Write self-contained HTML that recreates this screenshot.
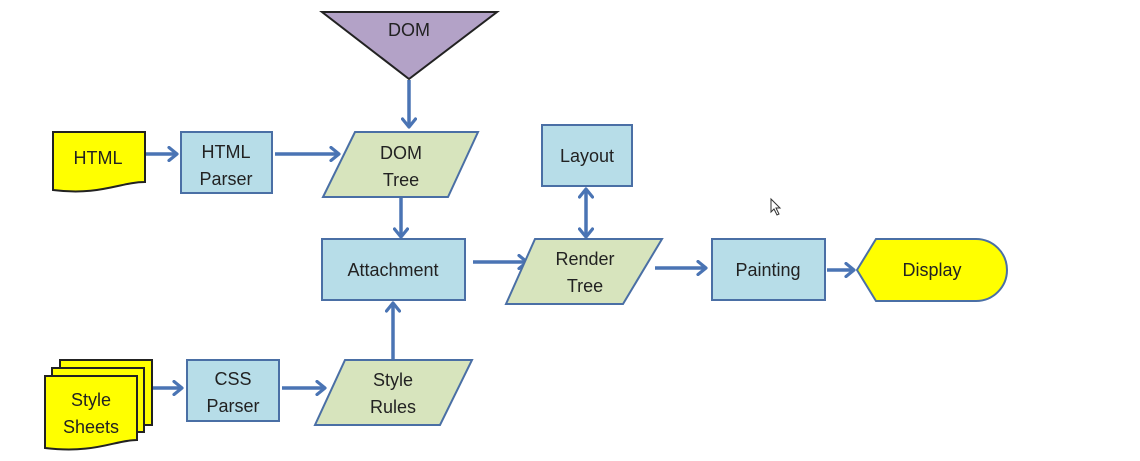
<!DOCTYPE html>
<html><head><style>html,body{margin:0;padding:0;background:#fff}svg{display:block}</style></head>
<body>
<svg width="1140" height="461" viewBox="0 0 1140 461" xmlns="http://www.w3.org/2000/svg" font-family="Liberation Sans, sans-serif" font-size="18" fill="#222">
<defs>
<marker id="a" markerWidth="14" markerHeight="16" refX="10" refY="8" orient="auto-start-reverse" markerUnits="userSpaceOnUse">
<path d="M2,1.5 L10,8 L2,14.5" fill="none" stroke="#4a74b4" stroke-width="3.2" stroke-linecap="round" stroke-linejoin="round"/>
</marker>
</defs>
<g stroke="#4a74b4" stroke-width="3.5" fill="none" marker-end="url(#a)">
<line x1="409" y1="80" x2="409" y2="127"/>
<line x1="146" y1="154" x2="177" y2="154"/>
<line x1="275" y1="154" x2="339" y2="154"/>
<line x1="401" y1="198" x2="401" y2="237"/>
<line x1="473" y1="262" x2="527" y2="262"/>
<line x1="655" y1="268" x2="706" y2="268"/>
<line x1="827" y1="270" x2="854" y2="270"/>
<line x1="152" y1="388" x2="182" y2="388"/>
<line x1="282" y1="388" x2="325" y2="388"/>
<line x1="393" y1="360" x2="393" y2="303"/>
<line x1="586" y1="189" x2="586" y2="237" marker-start="url(#a)"/>
</g>
<polygon points="322,12 497,12 409,79" fill="#b3a2c7" stroke="#222" stroke-width="2"/>
<text x="409" y="36" text-anchor="middle">DOM</text>
<path d="M53,132 H145 V182 C120,182 100,196 53,190 Z" fill="#ffff00" stroke="#222" stroke-width="2"/>
<text x="98" y="164" text-anchor="middle">HTML</text>
<g fill="#b7dde8" stroke="#4a6fa5" stroke-width="2">
<rect x="181" y="132" width="91" height="61"/>
<rect x="322" y="239" width="143" height="61"/>
<rect x="542" y="125" width="90" height="61"/>
<rect x="712" y="239" width="113" height="61"/>
<rect x="187" y="360" width="92" height="61"/>
</g>
<g fill="#d7e4bd" stroke="#4a6fa5" stroke-width="2">
<polygon points="355,132 478,132 448,197 323,197"/>
<polygon points="535,239 662,239 623,304 506,304"/>
<polygon points="345,360 472,360 440,425 315,425"/>
</g>
<path d="M876,239 H976 A31,31 0 0 1 976,301 H876 L857,270 Z" fill="#ffff00" stroke="#4a6fa5" stroke-width="2"/>
<g fill="#ffff00" stroke="#222" stroke-width="2">
<path d="M60,360 H152 V425 L60,425 Z"/>
<path d="M52,368 H144 V432 L52,432 Z"/>
<path d="M45,376 H137 V440 C115,440 95,454 45,448 Z"/>
</g>
<g text-anchor="middle">
<text x="226" y="158">HTML</text><text x="226" y="185">Parser</text>
<text x="401" y="159">DOM</text><text x="401" y="186">Tree</text>
<text x="393" y="276">Attachment</text>
<text x="587" y="162">Layout</text>
<text x="585" y="265">Render</text><text x="585" y="292">Tree</text>
<text x="768" y="276">Painting</text>
<text x="932" y="276">Display</text>
<text x="233" y="385">CSS</text><text x="233" y="412">Parser</text>
<text x="393" y="386">Style</text><text x="393" y="413">Rules</text>
<text x="91" y="406">Style</text><text x="91" y="433">Sheets</text>
</g>
<path d="M771,199 L771,212 L774,209 L777,215 L779,214 L776,208 L780,208 Z" fill="#fff" stroke="#333" stroke-width="1"/>
</svg>
</body></html>
